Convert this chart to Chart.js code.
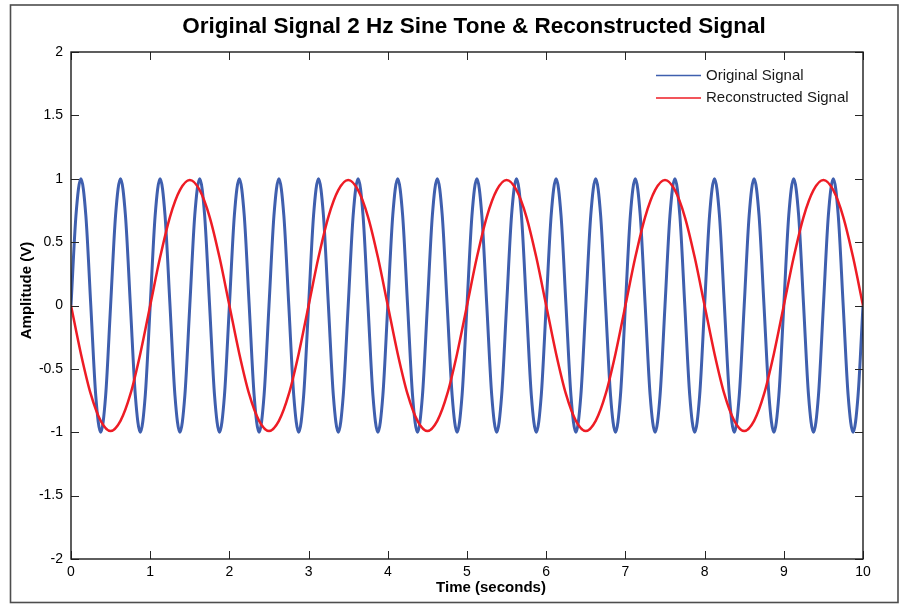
<!DOCTYPE html>
<html>
<head>
<meta charset="utf-8">
<title>Original Signal 2 Hz Sine Tone & Reconstructed Signal</title>
<script src="https://cdn.jsdelivr.net/npm/chart.js@4/dist/chart.umd.min.js"></script>
<style>
  html, body { margin: 0; padding: 0; background: #fff; }
  canvas { display: block; }
</style>
</head>
<body>
<canvas id="signalChart" width="902" height="604"></canvas>
<script>
const FONT = '"Liberation Sans", Arial, Helvetica, sans-serif';

const TITLE = 'Original Signal 2 Hz Sine Tone & Reconstructed Signal';
const X_TITLE = 'Time (seconds)';
const Y_TITLE = 'Amplitude (V)';

const X_TICKS = [0, 1, 2, 3, 4, 5, 6, 7, 8, 9, 10];
const Y_TICKS = [-2, -1.5, -1, -0.5, 0, 0.5, 1, 1.5, 2];

// 2 Hz tone, eight samples per period (dt = 0.0625 s), one period per row
const ORIGINAL_DT = 0.0625;
const originalSignal = [
  0, 0.71, 1, 0.71, 0, -0.71, -1, -0.71,
  0, 0.71, 1, 0.71, 0, -0.71, -1, -0.71,
  0, 0.71, 1, 0.71, 0, -0.71, -1, -0.71,
  0, 0.71, 1, 0.71, 0, -0.71, -1, -0.71,
  0, 0.71, 1, 0.71, 0, -0.71, -1, -0.71,
  0, 0.71, 1, 0.71, 0, -0.71, -1, -0.71,
  0, 0.71, 1, 0.71, 0, -0.71, -1, -0.71,
  0, 0.71, 1, 0.71, 0, -0.71, -1, -0.71,
  0, 0.71, 1, 0.71, 0, -0.71, -1, -0.71,
  0, 0.71, 1, 0.71, 0, -0.71, -1, -0.71,
  0, 0.71, 1, 0.71, 0, -0.71, -1, -0.71,
  0, 0.71, 1, 0.71, 0, -0.71, -1, -0.71,
  0, 0.71, 1, 0.71, 0, -0.71, -1, -0.71,
  0, 0.71, 1, 0.71, 0, -0.71, -1, -0.71,
  0, 0.71, 1, 0.71, 0, -0.71, -1, -0.71,
  0, 0.71, 1, 0.71, 0, -0.71, -1, -0.71,
  0, 0.71, 1, 0.71, 0, -0.71, -1, -0.71,
  0, 0.71, 1, 0.71, 0, -0.71, -1, -0.71,
  0, 0.71, 1, 0.71, 0, -0.71, -1, -0.71,
  0, 0.71, 1, 0.71, 0, -0.71, -1, -0.71,
  0
];

// reconstructed (aliased) tone, 2 s period, sixteen samples per period (dt = 0.125 s)
const RECON_DT = 0.125;
const reconstructedSignal = [
  0, -0.38, -0.70, -0.91, -0.99, -0.91, -0.70, -0.38, 0, 0.38, 0.70, 0.91, 0.99, 0.91, 0.70, 0.38,
  0, -0.38, -0.70, -0.91, -0.99, -0.91, -0.70, -0.38, 0, 0.38, 0.70, 0.91, 0.99, 0.91, 0.70, 0.38,
  0, -0.38, -0.70, -0.91, -0.99, -0.91, -0.70, -0.38, 0, 0.38, 0.70, 0.91, 0.99, 0.91, 0.70, 0.38,
  0, -0.38, -0.70, -0.91, -0.99, -0.91, -0.70, -0.38, 0, 0.38, 0.70, 0.91, 0.99, 0.91, 0.70, 0.38,
  0, -0.38, -0.70, -0.91, -0.99, -0.91, -0.70, -0.38, 0, 0.38, 0.70, 0.91, 0.99, 0.91, 0.70, 0.38,
  0
];

function toPoints(values, dt) {
  return values.map((v, i) => ({ x: i * dt, y: v }));
}

// inward tick marks on all four sides, box round the axes, frame round the figure
const axesBox = {
  id: 'axesBox',
  afterDraw(chart) {
    const { ctx, chartArea: a, scales } = chart;
    const len = 8;
    ctx.save();
    ctx.strokeStyle = '#262626';
    ctx.lineWidth = 1;
    ctx.beginPath();
    X_TICKS.forEach(t => {
      const px = Math.round(scales.x.getPixelForValue(t)) + 0.5;
      ctx.moveTo(px, a.bottom); ctx.lineTo(px, a.bottom - len);
      ctx.moveTo(px, a.top);    ctx.lineTo(px, a.top + len);
    });
    Y_TICKS.forEach(t => {
      const py = Math.round(scales.y.getPixelForValue(t)) + 0.5;
      ctx.moveTo(a.left, py);  ctx.lineTo(a.left + len, py);
      ctx.moveTo(a.right, py); ctx.lineTo(a.right - len, py);
    });
    ctx.stroke();

    ctx.lineWidth = 1.4;
    ctx.strokeStyle = '#1a1a1a';
    ctx.strokeRect(a.left, a.top, a.right - a.left, a.bottom - a.top);

    ctx.lineWidth = 1.6;
    ctx.strokeStyle = '#4d4d4d';
    ctx.strokeRect(10.5, 5, 887.5, 597.5);
    ctx.restore();
  }
};

// figure title and axis labels
const labels = {
  id: 'labels',
  afterDraw(chart) {
    const { ctx, chartArea: a } = chart;
    const midX = (a.left + a.right) / 2;
    const midY = (a.top + a.bottom) / 2;
    ctx.save();
    ctx.fillStyle = '#000';
    ctx.textAlign = 'center';
    ctx.textBaseline = 'middle';

    ctx.font = 'bold 22.5px ' + FONT;
    ctx.fillText(TITLE, midX + 7, a.top - 25);

    ctx.font = 'bold 15px ' + FONT;
    ctx.fillText(X_TITLE, midX + 24, a.bottom + 29);

    ctx.translate(27, midY - 15);
    ctx.rotate(-Math.PI / 2);
    ctx.fillText(Y_TITLE, 0, 0);
    ctx.restore();
  }
};

// legend in the upper right corner of the axes
const cornerLegend = {
  id: 'cornerLegend',
  afterDatasetsDraw(chart) {
    const { ctx, chartArea: a } = chart;
    ctx.save();
    ctx.font = '15px ' + FONT;
    ctx.textBaseline = 'middle';
    ctx.fillStyle = '#1a1a1a';
    chart.data.datasets.forEach((ds, i) => {
      const y = a.top + 23.5 + i * 22.5;
      ctx.strokeStyle = ds.borderColor;
      ctx.lineWidth = 1.6;
      ctx.beginPath();
      ctx.moveTo(a.right - 207, y);
      ctx.lineTo(a.right - 162, y);
      ctx.stroke();
      ctx.fillText(ds.label, a.right - 157, y);
    });
    ctx.restore();
  }
};

new Chart(document.getElementById('signalChart'), {
  type: 'line',
  data: {
    datasets: [
      {
        label: 'Original Signal',
        data: toPoints(originalSignal, ORIGINAL_DT),
        borderColor: '#3f5fae',
        borderWidth: 3,
        pointRadius: 0,
        cubicInterpolationMode: 'monotone',
        order: 2
      },
      {
        label: 'Reconstructed Signal',
        data: toPoints(reconstructedSignal, RECON_DT),
        borderColor: '#ee1c25',
        borderWidth: 2.5,
        pointRadius: 0,
        cubicInterpolationMode: 'monotone',
        order: 1
      }
    ]
  },
  options: {
    responsive: false,
    animation: false,
    events: [],
    layout: { padding: { left: 0, right: 39, top: 52, bottom: 0 } },
    plugins: {
      legend: { display: false },
      tooltip: { enabled: false },
      title: { display: false }
    },
    scales: {
      x: {
        type: 'linear',
        min: 0,
        max: 10,
        afterFit(scale) { scale.height = 45; },
        afterBuildTicks(scale) { scale.ticks = X_TICKS.map(v => ({ value: v })); },
        grid: { display: false, drawTicks: false },
        border: { display: false },
        ticks: {
          color: '#000',
          padding: 5,
          maxRotation: 0,
          font: { family: FONT, size: 14 },
          callback: v => String(v)
        }
      },
      y: {
        type: 'linear',
        min: -2,
        max: 2,
        afterFit(scale) { scale.width = 71; },
        afterBuildTicks(scale) { scale.ticks = Y_TICKS.map(v => ({ value: v })); },
        grid: { display: false, drawTicks: false },
        border: { display: false },
        ticks: {
          color: '#000',
          padding: 8,
          font: { family: FONT, size: 14 },
          callback: v => String(v)
        }
      }
    }
  },
  plugins: [cornerLegend, axesBox, labels]
});
</script>
</body>
</html>
